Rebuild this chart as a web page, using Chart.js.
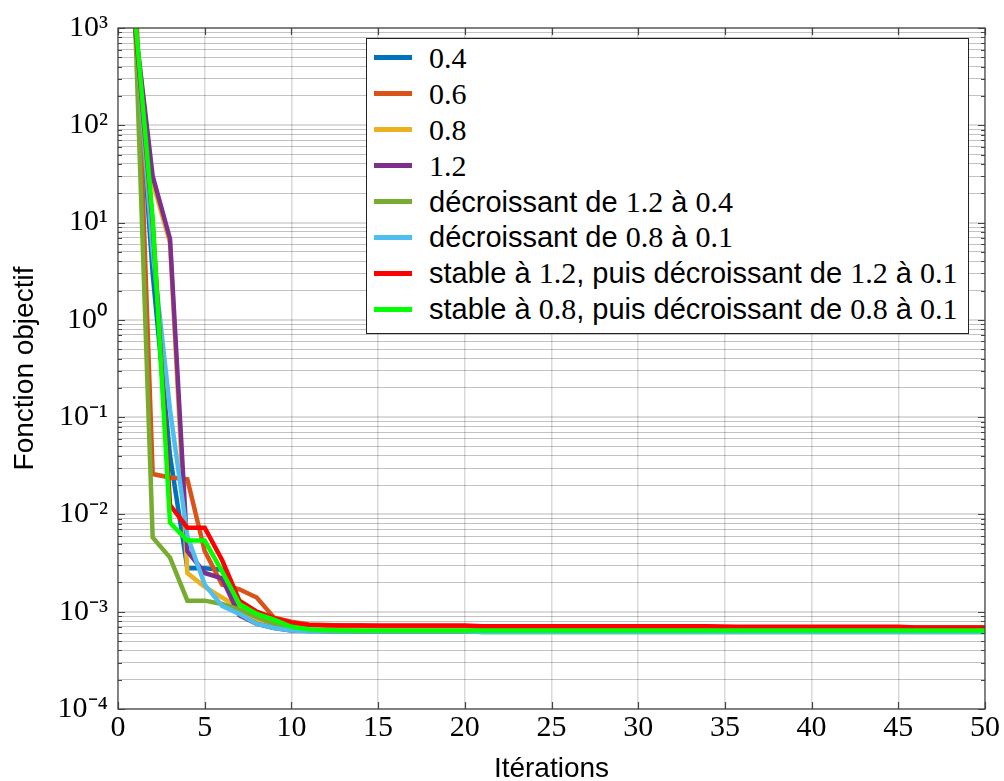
<!DOCTYPE html>
<html>
<head>
<meta charset="utf-8">
<script src="https://cdn.jsdelivr.net/npm/chart.js@4.4.1/dist/chart.umd.min.js"></script>
<style>
  body { margin: 0; background: #fff; }
  #wrap { position: relative; width: 1004px; height: 781px; }
  #legend {
    position: absolute; left: 366px; top: 38px; width: 603px; height: 296px;
    border: 1.3px solid #222; background: #fff; box-sizing: border-box; padding-top: 1px;
  }
  .row {
    height: 35.9px; display: flex; align-items: center; white-space: nowrap;
    font-family: 'Liberation Sans', Arial, sans-serif; font-size: 29px; color: #000;
  }
  .sw { width: 38px; height: 5px; margin-left: 7px; margin-right: 17px; flex: none; }
  .num { font-family: 'Liberation Serif', 'Times New Roman', serif; font-size: 30px; }
</style>
</head>
<body>
<div id="wrap">
  <canvas id="chart" width="1004" height="781"></canvas>
  <div id="legend"></div>
</div>
<script>
// Itérations (axe x)
const iterations = [
  1, 2, 3, 4, 5, 6, 7, 8, 9, 10,
  11, 12, 13, 14, 15, 16, 17, 18, 19, 20,
  21, 22, 23, 24, 25, 26, 27, 28, 29, 30,
  31, 32, 33, 34, 35, 36, 37, 38, 39, 40,
  41, 42, 43, 44, 45, 46, 47, 48, 49, 50
];

// Légendes des courbes
const seriesLabels = [
  '0.4',
  '0.6',
  '0.8',
  '1.2',
  'décroissant de 1.2 à 0.4',
  'décroissant de 0.8 à 0.1',
  'stable à 1.2, puis décroissant de 1.2 à 0.1',
  'stable à 0.8, puis décroissant de 0.8 à 0.1'
];

// Valeurs de la fonction objectif
const pas04 = [
  1000, 3, 0.04, 0.0028, 0.0028, 0.0027, 0.0012, 0.00085, 0.0007, 0.00065,
  0.00064, 0.00064, 0.00064, 0.00063, 0.00063, 0.00063, 0.00063, 0.00063, 0.00063, 0.00063,
  0.00063, 0.00063, 0.00063, 0.00063, 0.00063, 0.00063, 0.00063, 0.00063, 0.00063, 0.00063,
  0.00063, 0.00063, 0.00063, 0.00063, 0.00063, 0.00063, 0.00063, 0.00063, 0.00063, 0.00063,
  0.00063, 0.00063, 0.00063, 0.00063, 0.00063, 0.00063, 0.00063, 0.00063, 0.00063, 0.00063
];
const pas06 = [
  3000, 0.026, 0.024, 0.023, 0.0042, 0.0019, 0.0017, 0.0014, 0.00087, 0.00079,
  0.00074, 0.00073, 0.00072, 0.00072, 0.00071, 0.00071, 0.00071, 0.00071, 0.00071, 0.00071,
  0.0007, 0.0007, 0.0007, 0.0007, 0.0007, 0.0007, 0.0007, 0.0007, 0.0007, 0.0007,
  0.0007, 0.0007, 0.0007, 0.0007, 0.0007, 0.00069, 0.00069, 0.00069, 0.00069, 0.00069,
  0.00069, 0.00069, 0.00069, 0.00069, 0.00069, 0.00069, 0.00069, 0.00069, 0.00069, 0.00069
];
const pas08 = [
  1000, 26, 6.2, 0.0025, 0.0018, 0.0014, 0.0011, 0.0008, 0.0007, 0.00065,
  0.00064, 0.00064, 0.00064, 0.00064, 0.00063, 0.00063, 0.00063, 0.00063, 0.00063, 0.00063,
  0.00063, 0.00063, 0.00063, 0.00063, 0.00063, 0.00063, 0.00063, 0.00063, 0.00063, 0.00063,
  0.00063, 0.00063, 0.00063, 0.00063, 0.00063, 0.00063, 0.00063, 0.00063, 0.00063, 0.00063,
  0.00063, 0.00063, 0.00063, 0.00063, 0.00063, 0.00063, 0.00063, 0.00063, 0.00063, 0.00063
];
const pas12 = [
  1000, 30, 6.8, 0.0042, 0.0025, 0.0022, 0.00092, 0.00075, 0.00068, 0.00064,
  0.00064, 0.00063, 0.00063, 0.00063, 0.00063, 0.00063, 0.00063, 0.00063, 0.00063, 0.00063,
  0.00063, 0.00063, 0.00063, 0.00063, 0.00063, 0.00063, 0.00063, 0.00063, 0.00063, 0.00063,
  0.00063, 0.00063, 0.00063, 0.00063, 0.00063, 0.00063, 0.00063, 0.00063, 0.00063, 0.00063,
  0.00063, 0.00063, 0.00063, 0.00063, 0.00063, 0.00063, 0.00063, 0.00063, 0.00063, 0.00063
];
const decr12a04 = [
  1000, 0.0058, 0.0036, 0.0013, 0.0013, 0.0012, 0.00105, 0.00088, 0.00075, 0.00066,
  0.00063, 0.00063, 0.00063, 0.00063, 0.00063, 0.00063, 0.00063, 0.00063, 0.00063, 0.00063,
  0.00062, 0.00062, 0.00062, 0.00062, 0.00062, 0.00062, 0.00062, 0.00062, 0.00062, 0.00062,
  0.00062, 0.00062, 0.00062, 0.00062, 0.00062, 0.00062, 0.00062, 0.00062, 0.00062, 0.00062,
  0.00062, 0.00062, 0.00062, 0.00062, 0.00062, 0.00062, 0.00062, 0.00062, 0.00062, 0.00062
];
const decr08a01 = [
  1000, 5, 0.12, 0.006, 0.0019, 0.00115, 0.00095, 0.00075, 0.00068, 0.00064,
  0.00063, 0.00063, 0.00063, 0.00063, 0.00063, 0.00063, 0.00063, 0.00063, 0.00063, 0.00063,
  0.00062, 0.00062, 0.00062, 0.00062, 0.00062, 0.00062, 0.00062, 0.00062, 0.00062, 0.00062,
  0.00062, 0.00062, 0.00062, 0.00062, 0.00062, 0.00062, 0.00062, 0.00062, 0.00062, 0.00062,
  0.00062, 0.00062, 0.00062, 0.00062, 0.00062, 0.00062, 0.00062, 0.00062, 0.00062, 0.00062
];
const stable12 = [
  1000, 10, 0.0125, 0.0073, 0.0073, 0.0034, 0.0013, 0.001, 0.00086, 0.00077,
  0.00073, 0.00072, 0.00072, 0.00072, 0.00072, 0.00072, 0.00072, 0.00072, 0.00072, 0.00072,
  0.00071, 0.00071, 0.00071, 0.00071, 0.00071, 0.00071, 0.00071, 0.00071, 0.00071, 0.00071,
  0.00071, 0.00071, 0.00071, 0.00071, 0.0007, 0.0007, 0.0007, 0.0007, 0.0007, 0.0007,
  0.0007, 0.0007, 0.0007, 0.0007, 0.0007, 0.00069, 0.00069, 0.00069, 0.00069, 0.00069
];
const stable08 = [
  1200, 11, 0.0082, 0.0054, 0.0054, 0.0026, 0.0012, 0.00095, 0.00083, 0.0007,
  0.00066, 0.00065, 0.00064, 0.00064, 0.00064, 0.00064, 0.00064, 0.00064, 0.00064, 0.00064,
  0.00064, 0.00064, 0.00064, 0.00064, 0.00064, 0.00064, 0.00064, 0.00064, 0.00064, 0.00064,
  0.00064, 0.00064, 0.00064, 0.00064, 0.00064, 0.00064, 0.00064, 0.00064, 0.00064, 0.00064,
  0.00064, 0.00064, 0.00064, 0.00064, 0.00064, 0.00064, 0.00064, 0.00064, 0.00064, 0.00064
];

// Graduations de l'axe y (décades) et leurs libellés
const yDecades = [1e-4, 1e-3, 1e-2, 1e-1, 1, 10, 100, 1000];
const yTickLabels = ['10⁻⁴', '10⁻³', '10⁻²', '10⁻¹', '10⁰', '10¹', '10²', '10³'];
const xTicks = [0, 5, 10, 15, 20, 25, 30, 35, 40, 45, 50];

const allSeries = [pas04, pas06, pas08, pas12, decr12a04, decr08a01, stable12, stable08];
const colors = ['#0072BD', '#D95319', '#EDB120', '#7E2F8E', '#77AC30', '#4DBEEE', '#FF0000', '#00FF00'];

const serif = "'Liberation Serif', 'Times New Roman', serif";
const sans = "'Liberation Sans', Arial, sans-serif";

const datasets = allSeries.map((vals, i) => ({
  label: seriesLabels[i],
  data: vals.map((v, k) => ({ x: iterations[k], y: v })),
  borderColor: colors[i],
  backgroundColor: colors[i],
  borderWidth: 4.5,
  pointRadius: 0,
  tension: 0,
  fill: false,
  clip: 0,
  order: allSeries.length - i   // dernière courbe dessinée au-dessus
}));

// Cadre de l'axe + petites graduations (style pgfplots)
const axisBox = {
  id: 'axisBox',
  afterDatasetsDraw(chart) {
    const { ctx, chartArea: a, scales: { x, y } } = chart;
    ctx.save();
    ctx.strokeStyle = '#444';
    ctx.lineWidth = 1.2;
    ctx.beginPath();
    y.ticks.forEach(t => {
      const py = Math.round(y.getPixelForValue(t.value)) + 0.5;
      const len = t.major ? 7 : 4;
      ctx.moveTo(a.left, py); ctx.lineTo(a.left + len, py);
      ctx.moveTo(a.right, py); ctx.lineTo(a.right - len, py);
    });
    x.ticks.forEach(t => {
      const px = Math.round(x.getPixelForValue(t.value)) + 0.5;
      ctx.moveTo(px, a.bottom); ctx.lineTo(px, a.bottom - 7);
      ctx.moveTo(px, a.top); ctx.lineTo(px, a.top + 7);
    });
    ctx.stroke();
    ctx.strokeRect(a.left, a.top, a.right - a.left, a.bottom - a.top);
    ctx.restore();
  }
};

const ctx = document.getElementById('chart').getContext('2d');
const chart = new Chart(ctx, {
  type: 'line',
  data: { datasets: datasets },
  options: {
    responsive: false,
    animation: false,
    layout: { padding: { top: 25, right: 19, left: 0, bottom: 0 } },
    plugins: {
      legend: { display: false },
      tooltip: { enabled: false }
    },
    scales: {
      x: {
        type: 'linear',
        min: 0,
        max: 50,
        afterBuildTicks: s => { s.ticks = xTicks.map(v => ({ value: v })); },
        afterFit: s => { s.height = 72; },
        ticks: { color: '#000', font: { family: serif, size: 30 }, padding: 1, maxRotation: 0 },
        grid: { color: 'rgba(0,0,0,0.15)', lineWidth: 1.5, drawTicks: false },
        border: { display: false },
        title: {
          display: true, text: 'Itérations', color: '#000',
          font: { family: sans, size: 28, lineHeight: 1 }, padding: { top: 0, bottom: -2 }
        }
      },
      y: {
        type: 'logarithmic',
        min: 1e-4,
        max: 1e3,
        afterBuildTicks: s => {
          const t = [];
          yDecades.forEach((d, i) => {
            t.push({ value: d, major: true });
            if (i < yDecades.length - 1) {
              for (let m = 2; m <= 9; m++) t.push({ value: m * d, major: false });
            }
          });
          s.ticks = t;
        },
        afterFit: s => { s.width = 118; },
        ticks: {
          autoSkip: false,
          color: '#000',
          font: { family: serif, size: 30 },
          padding: 10,
          callback: (v, i, ticks) => {
            const k = yDecades.indexOf(ticks[i].value);
            return k >= 0 ? yTickLabels[k] : '';
          }
        },
        grid: {
          drawTicks: false,
          color: c => (c.tick && c.tick.major) ? 'rgba(0,0,0,0.14)' : 'rgba(0,0,0,0.24)',
          lineWidth: c => (c.tick && c.tick.major) ? 2 : 1
        },
        border: { display: false },
        title: {
          display: true, text: 'Fonction objectif', color: '#000',
          font: { family: sans, size: 28, lineHeight: 1 }, padding: { top: 11, bottom: 0 }
        }
      }
    }
  },
  plugins: [axisBox]
});

// Légende HTML (chiffres en police à empattements comme l'original)
const legend = document.getElementById('legend');
datasets.forEach(ds => {
  const row = document.createElement('div');
  row.className = 'row';
  const sw = document.createElement('span');
  sw.className = 'sw';
  sw.style.background = ds.borderColor;
  row.appendChild(sw);
  const txt = document.createElement('span');
  txt.innerHTML = ds.label.replace(/(\d+\.\d+)/g, '<span class="num">$1</span>');
  row.appendChild(txt);
  legend.appendChild(row);
});
</script>
</body>
</html>
